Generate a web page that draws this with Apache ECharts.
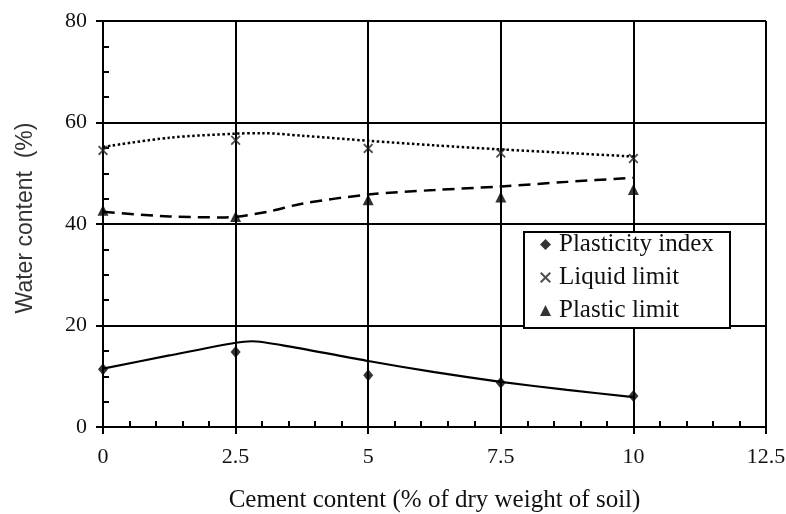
<!DOCTYPE html>
<html>
<head>
<meta charset="utf-8">
<script src="https://cdn.jsdelivr.net/npm/echarts@6/dist/echarts.min.js"></script>
<style>
  html, body { margin: 0; padding: 0; background: #fff; }
  #chart { width: 786px; height: 514px; }
</style>
</head>
<body>
<div id="chart"></div>
<script>
// Cement content (% of dry weight of soil) at which each test was run
const cementContent = [0, 2.5, 5, 7.5, 10];

// Measured Atterberg limits (water content, %)
const plasticityIndex = [11.4, 14.8, 10.2, 8.7, 6.1];
const liquidLimit = [54.5, 56.5, 54.9, 54.0, 52.9];
const plasticLimit = [42.7, 41.5, 44.8, 45.3, 46.8];

// Fitted trend curves: [cement content, water content]
const piTrend = [[0, 11.5], [1.25, 14.1], [2.5, 16.6], [2.8, 16.9], [3.5, 15.9], [5, 13.0], [6.25, 10.8], [7.5, 8.9], [8.75, 7.3], [10, 5.9]];
const llTrend = [[0, 55.2], [1.25, 57.0], [2.5, 57.8], [3.0, 57.9], [3.75, 57.4], [5, 56.4], [6.25, 55.5], [7.5, 54.7], [8.75, 54.0], [10, 53.3]];
const plTrend = [[0, 42.4], [1.25, 41.5], [2.3, 41.3], [3.1, 42.4], [3.75, 44.0], [5, 45.8], [6.25, 46.7], [7.5, 47.4], [8.75, 48.3], [10, 49.1]];

// Axis ticks
const xTicks = { min: 0, max: 12.5, interval: 2.5 };
const yTicks = { min: 0, max: 80, interval: 20 };

const seriesNames = ['Plasticity index', 'Liquid limit', 'Plastic limit'];

const pairs = (ys) => cementContent.map((x, i) => [x, ys[i]]);

const crossSymbol = 'path://M0,1.3L1.3,0L5,3.7L8.7,0L10,1.3L6.3,5L10,8.7L8.7,10L5,6.3L1.3,10L0,8.7L3.7,5Z';

const serif = 'Liberation Serif, Times New Roman, serif';
const ink = '#111';

const chart = echarts.init(document.getElementById('chart'), null, { renderer: 'canvas' });

const baseX = {
  type: 'value',
  min: xTicks.min, max: xTicks.max, interval: xTicks.interval,
  position: 'bottom'
};
const baseY = {
  type: 'value',
  min: yTicks.min, max: yTicks.max, interval: yTicks.interval,
  position: 'left'
};

chart.setOption({
  animation: false,
  backgroundColor: '#fff',
  grid: { left: 103, right: 20, top: 21, bottom: 87, containLabel: false, outerBoundsMode: 'none' },
  xAxis: [
    Object.assign({}, baseX, {
      name: 'Cement content (% of dry weight of soil)',
      nameLocation: 'middle',
      nameGap: 61,
      nameTextStyle: { fontFamily: serif, fontSize: 25, color: ink },
      axisLine: { show: true, lineStyle: { color: '#000', width: 2 } },
      axisTick: { show: true, inside: false, length: 7, lineStyle: { color: '#000', width: 2 } },
      axisLabel: {
        margin: 19, fontFamily: serif, fontSize: 22, color: ink,
        formatter: (v) => String(v)
      },
      splitLine: { show: true, lineStyle: { color: '#000', width: 2 } },
      minorTick: { show: false }
    }),
    Object.assign({}, baseX, {
      axisLine: { show: false },
      axisTick: { show: false, inside: true },
      axisLabel: { show: false },
      splitLine: { show: false },
      minorTick: { show: true, splitNumber: 5, length: 6, lineStyle: { color: '#000', width: 2 } }
    })
  ],
  yAxis: [
    Object.assign({}, baseY, {
      name: 'Water content  (%)',
      nameLocation: 'middle',
      nameGap: 66,
      nameRotate: 90,
      nameTextStyle: {
        fontFamily: 'Liberation Sans, Arial, sans-serif', fontSize: 23, color: '#333',
        padding: [0, 0, 0, 12]
      },
      axisLine: { show: true, lineStyle: { color: '#000', width: 2 } },
      axisTick: { show: true, inside: false, length: 7, lineStyle: { color: '#000', width: 2 } },
      axisLabel: { margin: 16, fontFamily: serif, fontSize: 22, color: ink },
      splitLine: { show: true, lineStyle: { color: '#000', width: 2 } },
      minorTick: { show: false }
    }),
    Object.assign({}, baseY, {
      axisLine: { show: false },
      axisTick: { show: false, inside: true },
      axisLabel: { show: false },
      splitLine: { show: false },
      minorTick: { show: true, splitNumber: 4, length: 6, lineStyle: { color: '#000', width: 2 } }
    })
  ],
  legend: {
    data: seriesNames,
    orient: 'vertical',
    left: 540,
    top: 232,
    padding: 0,
    itemGap: 8,
    itemWidth: 11,
    itemHeight: 11,
    textStyle: { fontFamily: serif, fontSize: 25, color: ink, padding: [0, 0, 0, 3] },
    backgroundColor: 'transparent',
    z: 10
  },
  graphic: [{
    type: 'rect',
    left: 523, top: 231,
    shape: { width: 206, height: 96 },
    style: { fill: '#fff', stroke: '#000', lineWidth: 2 },
    z: 5
  }],
  series: [
    {
      name: seriesNames[0] + ' trend', type: 'line', data: piTrend,
      smooth: 0.25, showSymbol: false, silent: true,
      lineStyle: { color: '#000', width: 2.2, type: 'solid' }, z: 2
    },
    {
      name: seriesNames[1] + ' trend', type: 'line', data: llTrend,
      smooth: 0.3, showSymbol: false, silent: true,
      lineStyle: { color: '#000', width: 2.5, type: [2.5, 2.5] }, z: 2
    },
    {
      name: seriesNames[2] + ' trend', type: 'line', data: plTrend,
      smooth: 0.3, showSymbol: false, silent: true,
      lineStyle: { color: '#000', width: 2.5, type: [12, 7] }, z: 2
    },
    {
      name: seriesNames[0], type: 'scatter', data: pairs(plasticityIndex),
      symbol: 'diamond', symbolSize: [10, 12],
      itemStyle: { color: '#000' }, z: 3
    },
    {
      name: seriesNames[1], type: 'scatter', data: pairs(liquidLimit),
      symbol: crossSymbol, symbolSize: 10,
      itemStyle: { color: '#222' }, z: 3
    },
    {
      name: seriesNames[2], type: 'scatter', data: pairs(plasticLimit),
      symbol: 'triangle', symbolSize: [11, 11],
      itemStyle: { color: '#000' }, z: 3
    }
  ]
});
</script>
</body>
</html>
